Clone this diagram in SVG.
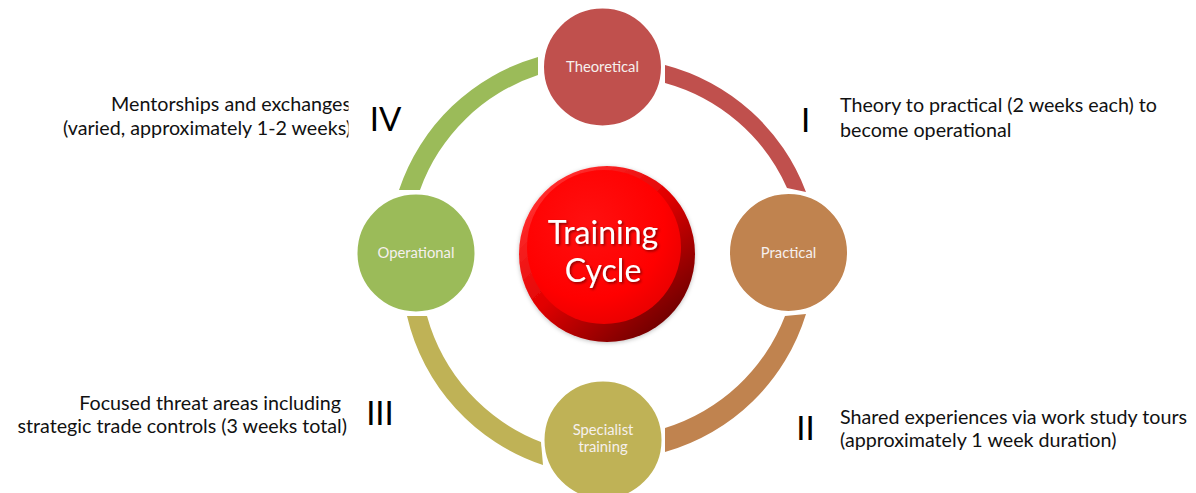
<svg xmlns="http://www.w3.org/2000/svg" width="1196" height="493" viewBox="0 0 1196 493">
<defs>
<style>
.desc{font-family:Lato,"Open Sans",sans-serif;font-size:19.7px;fill:#111}
.num{font-family:Lato,"Open Sans",sans-serif;font-size:33px;fill:#000;text-anchor:middle}
.lbl{font-family:Lato,"Open Sans",sans-serif;font-size:14.8px;fill:#F6F0EE;text-anchor:middle}
.node{stroke:#fff;stroke-width:3}
.ctr{font-family:Lato,"Open Sans",sans-serif;font-size:32px;fill:#fff;text-anchor:middle}
</style>
<linearGradient id="rim" x1="0.2" y1="0.15" x2="0.85" y2="0.9">
<stop offset="0" stop-color="#FF2A2A"/>
<stop offset="0.45" stop-color="#E00000"/>
<stop offset="1" stop-color="#6E0000"/>
</linearGradient>
<radialGradient id="face" cx="0.4" cy="0.35" r="0.7">
<stop offset="0" stop-color="#FF1010"/>
<stop offset="0.7" stop-color="#FF0000"/>
<stop offset="1" stop-color="#E80000"/>
</radialGradient>
<filter id="glow" x="-20%" y="-20%" width="140%" height="140%">
<feDropShadow dx="0" dy="1" stdDeviation="2" flood-color="#000" flood-opacity="0.25"/>
</filter>
<filter id="tsh" x="-10%" y="-20%" width="130%" height="150%">
<feDropShadow dx="1.5" dy="1.5" stdDeviation="1" flood-color="#400000" flood-opacity="0.6"/>
</filter>
<clipPath id="clipL"><rect x="0" y="0" width="348.5" height="493"/></clipPath>
</defs>
<rect width="1196" height="493" fill="#fff"/>

<g id="connectors">
<path d="M 665,65 A 206 206 0 0 1 806,192 L 787,188 A 188 188 0 0 0 665,83 Z" fill="#C0504D"/>
<path d="M 806,314 A 206 206 0 0 1 665,452 L 665,428 A 188 188 0 0 0 785,316 Z" fill="#C0834F"/>
<path d="M 543,465 A 206 206 0 0 1 407,316 L 427,316 A 188 188 0 0 0 541,442 Z" fill="#BFB256"/>
<path d="M 399,190 A 206 206 0 0 1 538,57 L 538,75 A 188 188 0 0 0 420,190 Z" fill="#9BBB59"/>
</g>

<g id="theoretical">
<circle class="node" cx="602.5" cy="67" r="60" fill="#C0504D"/>
<text class="lbl" x="602.5" y="72">Theoretical</text>
</g>
<g id="practical">
<circle class="node" cx="788.5" cy="252.5" r="60" fill="#C0834F"/>
<text class="lbl" x="788.5" y="258">Practical</text>
</g>
<g id="specialist">
<circle class="node" cx="603" cy="440" r="60" fill="#BFB256"/>
<text class="lbl" x="603" y="435">Specialist</text>
<text class="lbl" x="603" y="452">training</text>
</g>
<g id="operational">
<circle class="node" cx="416" cy="253" r="60" fill="#9BBB59"/>
<text class="lbl" x="416" y="258">Operational</text>
</g>

<g id="center">
<circle cx="607" cy="254" r="88" fill="url(#rim)" filter="url(#glow)"/>
<circle cx="604" cy="247" r="77" fill="url(#face)"/>
<g filter="url(#tsh)">
<text class="ctr" x="603" y="244">Training</text>
<text class="ctr" x="603" y="282">Cycle</text>
</g>
</g>

<g id="label-I">
<text class="num" x="805.5" y="132">I</text>
<text class="desc" x="840" y="112">Theory to practical (2 weeks each) to</text>
<text class="desc" x="840" y="137">become operational</text>
</g>
<g id="label-II">
<text class="num" x="805.5" y="440">II</text>
<text class="desc" x="840" y="424">Shared experiences via work study tours</text>
<text class="desc" x="840" y="447">(approximately 1 week duration)</text>
</g>
<g id="label-III">
<text class="num" x="380" y="425">III</text>
<text class="desc" x="341" y="410" text-anchor="end">Focused threat areas including</text>
<text class="desc" x="347" y="433" text-anchor="end">strategic trade controls (3 weeks total)</text>
</g>
<g id="label-IV">
<text class="num" x="385.5" y="131">IV</text>
<g clip-path="url(#clipL)">
<text class="desc" x="351" y="111" text-anchor="end">Mentorships and exchanges</text>
<text class="desc" x="351" y="135" text-anchor="end">(varied, approximately 1-2 weeks)</text>
</g>
</g>
</svg>
